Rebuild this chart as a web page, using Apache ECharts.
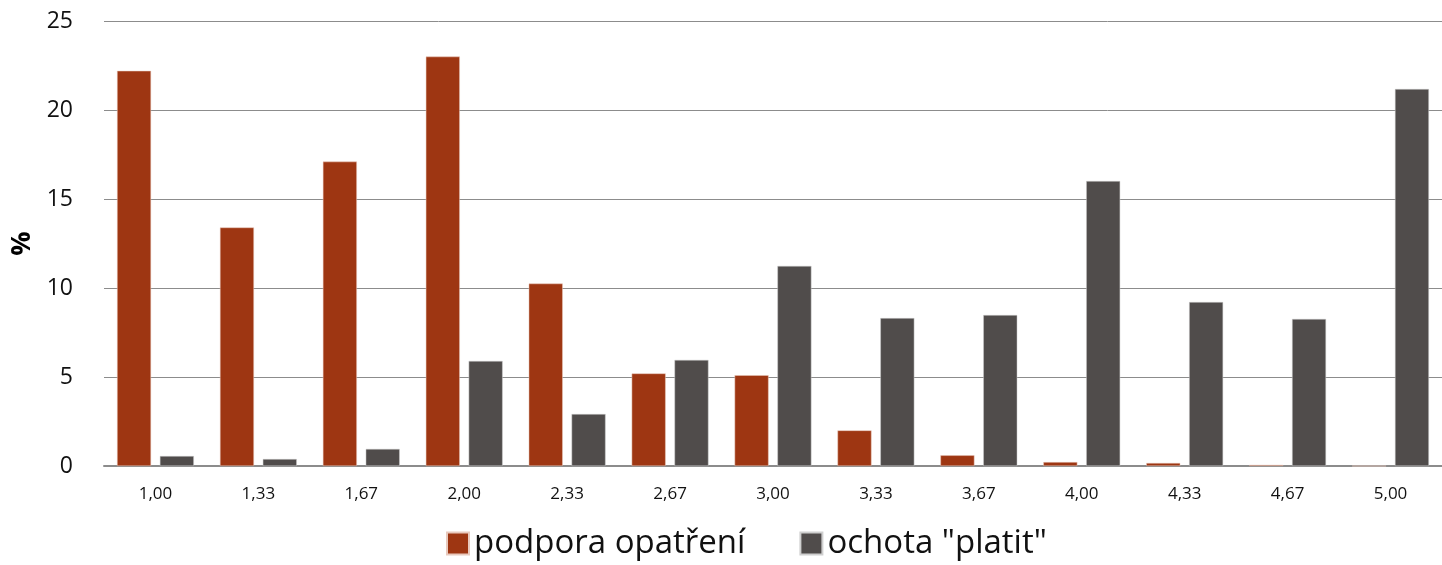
<!DOCTYPE html>
<html>
<head>
<meta charset="utf-8">
<script src="https://cdn.jsdelivr.net/npm/echarts@6/dist/echarts.min.js"></script>
<style>
  html, body { margin: 0; padding: 0; background: #fff; }
  #chart { width: 1442px; height: 565px; }
</style>
</head>
<body>
<div id="chart"></div>
<script>
const categories = ['1,00', '1,33', '1,67', '2,00', '2,33', '2,67', '3,00', '3,33', '3,67', '4,00', '4,33', '4,67', '5,00']
const podpora = [22.2, 13.4, 17.1, 23.0, 10.25, 5.2, 5.1, 2.0, 0.6, 0.22, 0.17, 0.06, 0]
const ochota = [0.56, 0.39, 0.96, 5.9, 2.92, 5.96, 11.24, 8.31, 8.48, 16.01, 9.21, 8.26, 21.18]
const yTicks = [0, 5, 10, 15, 20, 25]

const font = '"Open Sans", Lato, sans-serif'
const chart = echarts.init(document.getElementById('chart'))

chart.setOption({
  animation: false,
  grid: { left: 104, right: 0, top: 21, bottom: 99, outerBoundsMode: 'none', containLabel: false },
  legend: {
    left: 441,
    bottom: 0,
    itemWidth: 22,
    itemHeight: 22,
    itemGap: 54,
    icon: 'rect',
    textStyle: { fontSize: 33, color: '#111', fontFamily: font },
    data: ['podpora opatření', 'ochota "platit"'],
  },
  xAxis: {
    type: 'category',
    data: categories,
    axisLine: { lineStyle: { color: '#8c8c8c', width: 2 } },
    axisTick: { show: false },
    axisLabel: { color: '#111', fontSize: 17, fontFamily: font, margin: 20 },
  },
  yAxis: {
    type: 'value',
    min: 0,
    max: 25,
    interval: 5,
    name: '%',
    nameLocation: 'middle',
    nameGap: 64,
    nameRotate: 90,
    nameTextStyle: { fontSize: 27, fontWeight: 'bold', color: '#000', fontFamily: font },
    axisLine: { show: false },
    axisTick: { show: false },
    axisLabel: {
      color: '#111', fontSize: 23, fontFamily: font, margin: 31,
      formatter: (v) => (yTicks.includes(v) ? String(v) : ''),
    },
    splitLine: { lineStyle: { color: '#8c8c8c', width: 1 } },
  },
  series: [
    {
      name: 'podpora opatření',
      type: 'bar',
      data: podpora,
      barWidth: 34,
      barGap: '26%',
      itemStyle: { color: '#9e3612', borderColor: '#e8c9bd', borderWidth: 0.5 },
    },
    {
      name: 'ochota "platit"',
      type: 'bar',
      data: ochota,
      barWidth: 34,
      itemStyle: { color: '#504c4b', borderColor: '#cfcfcf', borderWidth: 0.5 },
    },
  ],
})
</script>
</body>
</html>
